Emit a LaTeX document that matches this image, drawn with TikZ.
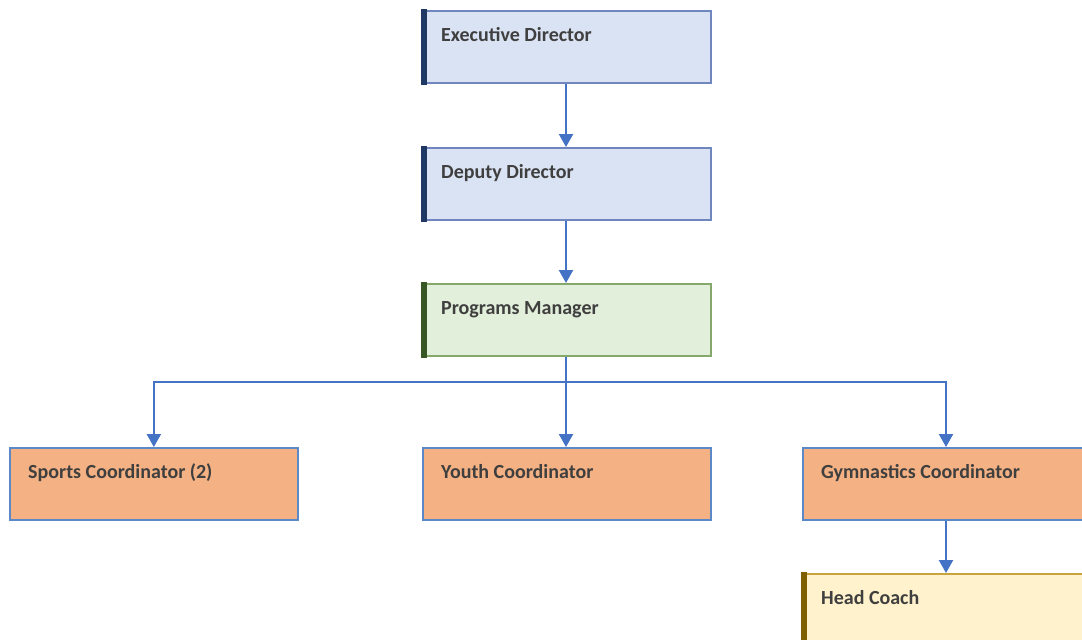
\documentclass[tikz,border=0pt]{standalone}
\usepackage{fontspec}
\setmainfont{Carlito}
\usetikzlibrary{arrows.meta}
\definecolor{bluefill}{HTML}{DAE3F3}
\definecolor{blueedge}{HTML}{6F87BE}
\definecolor{bluebar}{HTML}{1F3864}
\definecolor{greenfill}{HTML}{E2EFDA}
\definecolor{greenedge}{HTML}{84A96B}
\definecolor{greenbar}{HTML}{375623}
\definecolor{orangefill}{HTML}{F4B183}
\definecolor{orangeedge}{HTML}{5B88C6}
\definecolor{yellowfill}{HTML}{FFF2CC}
\definecolor{yellowedge}{HTML}{C9A43C}
\definecolor{yellowbar}{HTML}{7F6000}
\definecolor{conn}{HTML}{4472C4}
\definecolor{txt}{HTML}{3F3F3F}
\tikzset{
  box/.style={rectangle, anchor=north west, minimum width=288pt, minimum height=72pt, inner sep=0pt, line width=1.7pt},
  bluebox/.style={box, fill=bluefill, draw=blueedge},
  greenbox/.style={box, fill=greenfill, draw=greenedge},
  orangebox/.style={box, fill=orangefill, draw=orangeedge},
  yellowbox/.style={box, fill=yellowfill, draw=yellowedge},
  lbl/.style={anchor=base west, inner sep=0pt, text=txt, font=\fontsize{20pt}{24pt}\selectfont\bfseries},
  link/.style={draw=conn, line width=2.3pt, -{Triangle[width=14pt,length=13pt]}},
}
\newcommand{\sidebar}[2]{\fill[#2] ([shift={(-0.85,-0.85)}]#1.north west) rectangle ([shift={(4.5,0.85)}]#1.south west);}
\begin{document}
\begin{tikzpicture}[x=1pt,y=-1pt]
\clip (0,0) rectangle (1082,640);
\useasboundingbox (0,0) rectangle (1082,640);
\fill[white] (0,0) rectangle (1082,640);
\node[bluebox] (exec) at (422,10) {};
\node[bluebox] (dep) at (422,147) {};
\node[greenbox] (pm) at (422,283) {};
\node[orangebox] (sports) at (9,447) {};
\node[orangebox] (youth) at (422,447) {};
\node[orangebox, minimum width=300pt] (gym) at (802,447) {};
\node[yellowbox, minimum width=300pt] (head) at (802,573) {};
\sidebar{exec}{bluebar}
\sidebar{dep}{bluebar}
\sidebar{pm}{greenbar}
\sidebar{head}{yellowbar}
\node[lbl] (exec-t) at ([shift={(19,31)}]exec.north west) {Executive Director};
\node[lbl] (dep-t) at ([shift={(19,31)}]dep.north west) {Deputy Director};
\node[lbl] (pm-t) at ([shift={(19,31)}]pm.north west) {Programs Manager};
\node[lbl] (sports-t) at ([shift={(19,31)}]sports.north west) {Sports Coordinator (2)};
\node[lbl] (youth-t) at ([shift={(19,31)}]youth.north west) {Youth Coordinator};
\node[lbl] (gym-t) at ([shift={(19,31)}]gym.north west) {Gymnastics Coordinator};
\node[lbl] (head-t) at ([shift={(19,31)}]head.north west) {Head Coach};
\coordinate (bus) at (566,382);
\draw[link] (exec.south -| 566,0) -- (dep.north -| 566,0);
\draw[link] (dep.south -| 566,0) -- (pm.north -| 566,0);
\draw[draw=conn, line width=2.3pt] (pm.south -| 566,0) -- (bus);
\draw[link] (bus) -| (sports.north);
\draw[link] (bus) -- (youth.north -| 566,0);
\draw[link] (bus) -| (gym.north -| 946,0);
\draw[link] (gym.south -| 946,0) -- (head.north -| 946,0);
\end{tikzpicture}
\end{document}
